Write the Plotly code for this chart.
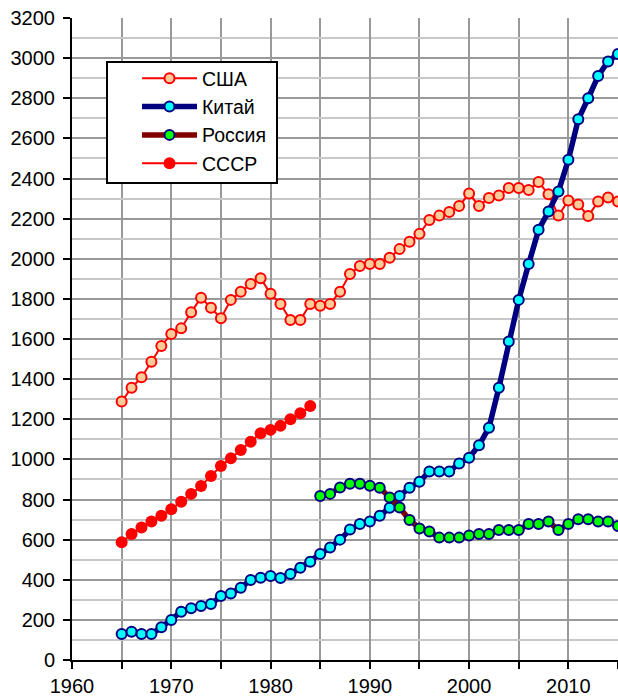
import plotly.graph_objects as go

years_usa = list(range(1965, 2016))
usa = [1288, 1357, 1409, 1487, 1565, 1625, 1653, 1733, 1806, 1756,
       1703, 1795, 1835, 1874, 1903, 1825, 1775, 1695, 1695, 1775,
       1766, 1775, 1836, 1924, 1964, 1974, 1974, 2005, 2048, 2085,
       2124, 2193, 2215, 2233, 2263, 2325, 2263, 2303, 2315, 2353,
       2353, 2343, 2383, 2321, 2215, 2290, 2270, 2213, 2285, 2305,
       2285]

years_china = list(range(1965, 2016))
china = [130, 141, 130, 130, 163, 199, 241, 258, 269, 279,
         319, 332, 360, 399, 410, 419, 409, 429, 460, 490,
         528, 561, 600, 650, 678, 690, 719, 759, 818, 859,
         889, 939, 939, 939, 980, 1008, 1070, 1158, 1357, 1587,
         1795, 1974, 2144, 2235, 2335, 2493, 2695, 2800, 2911, 2983,
         3021]

years_russia = list(range(1985, 2016))
russia = [818, 828, 860, 879, 879, 868, 859, 810, 760, 698,
          656, 640, 610, 610, 610, 620, 628, 628, 648, 648,
          648, 678, 678, 690, 648, 678, 701, 701, 690, 690,
          668]

years_ussr = list(range(1965, 1985))
ussr = [587, 628, 661, 690, 719, 751, 789, 828, 867, 917,
        967, 1005, 1047, 1088, 1130, 1147, 1167, 1200, 1230, 1266]

FONT = "Liberation Sans, Arial, sans-serif"

W, H = 618, 697
ML, MR, MT, MB = 72, 0, 18, 37
PW, PH = W - ML - MR, H - MT - MB


def px_x(p):
    return (p - ML) / PW


def px_y(p):
    return (H - MB - p) / PH


fig = go.Figure()
fig.add_trace(go.Scatter(
    x=years_usa, y=usa, name="США", mode="lines+markers",
    line=dict(color="#FF0000", width=2),
    marker=dict(size=10, color="#FFCC99", line=dict(color="#FF0000", width=2)),
))
fig.add_trace(go.Scatter(
    x=years_china, y=china, name="Китай", mode="lines+markers",
    line=dict(color="#000080", width=5.5),
    marker=dict(size=10, color="#00FFFF", line=dict(color="#000080", width=2)),
))
fig.add_trace(go.Scatter(
    x=years_russia, y=russia, name="Россия", mode="lines+markers",
    line=dict(color="#800000", width=5.5),
    marker=dict(size=10, color="#00FF00", line=dict(color="#000080", width=2)),
))
fig.add_trace(go.Scatter(
    x=years_ussr, y=ussr, name="СССР", mode="lines+markers",
    line=dict(color="#FF0000", width=2),
    marker=dict(size=12, color="#FF0000", line=dict(width=0)),
))

# legend frame
fig.add_shape(
    type="rect", xref="paper", yref="paper",
    x0=px_x(107), x1=px_x(277), y0=px_y(183), y1=px_y(62),
    line=dict(color="black", width=2), fillcolor="white", layer="above",
)

fig.update_layout(
    width=W, height=H,
    margin=dict(l=ML, r=MR, t=MT, b=MB),
    paper_bgcolor="white", plot_bgcolor="white",
    font=dict(family=FONT, size=20, color="black"),
    showlegend=True,
    legend=dict(
        x=px_x(137), y=px_y(59), xanchor="left", yanchor="top",
        bgcolor="rgba(0,0,0,0)", borderwidth=0,
        font=dict(family=FONT, size=19.5, color="black"),
        itemwidth=55, tracegroupgap=0,
    ),
    xaxis=dict(
        range=[1960, 2015], tick0=1960, dtick=10,
        showline=True, linecolor="black", linewidth=2,
        ticks="outside", ticklen=7, tickwidth=2, tickcolor="black",
        showgrid=True, gridcolor="#999999", gridwidth=2,
        zeroline=False,
        minor=dict(dtick=5, tick0=1960, ticks="outside", ticklen=7, tickwidth=2,
                   tickcolor="black", showgrid=True, gridcolor="#999999", gridwidth=2),
        tickfont=dict(family=FONT, size=20, color="black"),
    ),
    yaxis=dict(
        range=[0, 3200], tick0=0, dtick=200,
        showline=True, linecolor="black", linewidth=2,
        ticks="outside", ticklen=7, tickwidth=2, tickcolor="black",
        showgrid=True, gridcolor="#999999", gridwidth=2,
        zeroline=False,
        minor=dict(dtick=100, tick0=0, showgrid=True, gridcolor="#C8C8C8", gridwidth=2, ticks=""),
        tickfont=dict(family=FONT, size=20, color="black"),
        ticklabelstandoff=4,
    ),
)

fig.write_html(
    "out.html",
    config={"displayModeBar": False},
    post_script="document.body.style.margin='0';document.body.style.padding='0';document.body.style.overflow='hidden';",
)
